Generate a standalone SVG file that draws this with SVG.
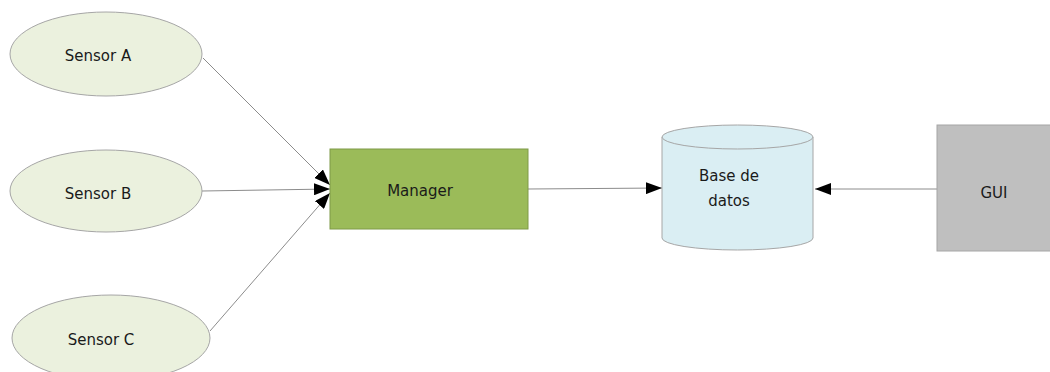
<svg xmlns="http://www.w3.org/2000/svg" width="1050" height="372" viewBox="0 0 1050 372">
  <style>
    .sensor { fill: #EBF1DE; stroke: #A6A6A6; stroke-width: 1; }
    .lbl { font-family: "DejaVu Sans", "Liberation Sans", sans-serif; font-size: 15px; fill: #1a1a1a; text-anchor: middle; }
    .conn { stroke: #8c8c8c; stroke-width: 1; fill: none; marker-end: url(#arrow); }
  </style>
  <defs>
    <marker id="arrow" viewBox="0 0 16 12" refX="16" refY="6" markerWidth="16" markerHeight="12" markerUnits="userSpaceOnUse" orient="auto">
      <path d="M0,0 L16,6 L0,12 z" fill="#000"/>
    </marker>
  </defs>
  <rect width="1050" height="372" fill="#fff"/>

  <g id="connectors">
    <line class="conn" x1="203" y1="58" x2="330" y2="185"/>
    <line class="conn" x1="202" y1="191" x2="330" y2="189"/>
    <line class="conn" x1="210" y1="331" x2="330" y2="193"/>
    <line class="conn" x1="528" y1="189" x2="662" y2="188"/>
    <line class="conn" x1="937" y1="189" x2="815" y2="189"/>
  </g>

  <g id="sensorA">
    <ellipse class="sensor" cx="106" cy="54" rx="96" ry="42"/>
    <text class="lbl" x="98" y="61">Sensor A</text>
  </g>
  <g id="sensorB">
    <ellipse class="sensor" cx="106" cy="191" rx="96" ry="41"/>
    <text class="lbl" x="98" y="199">Sensor B</text>
  </g>
  <g id="sensorC">
    <ellipse class="sensor" cx="111" cy="338" rx="99" ry="43"/>
    <text class="lbl" x="101" y="345">Sensor C</text>
  </g>

  <g id="manager">
    <rect x="330" y="149" width="198" height="80" fill="#9BBB59" stroke="#7F9A48" stroke-width="1"/>
    <text class="lbl" x="420" y="196">Manager</text>
  </g>

  <g id="database">
    <path d="M662,137 L662,238 A75.5,12 0 0 0 813,238 L813,137" fill="#DAEEF3" stroke="#A6A6A6" stroke-width="1"/>
    <ellipse cx="737.5" cy="137" rx="75.5" ry="12" fill="#DAEEF3" stroke="#A6A6A6" stroke-width="1"/>
    <text class="lbl" x="729" y="181">Base de</text>
    <text class="lbl" x="729" y="206">datos</text>
  </g>

  <g id="gui">
    <rect x="937" y="125" width="120" height="126" fill="#BFBFBF" stroke="#A6A6A6" stroke-width="1"/>
    <text class="lbl" x="994" y="198">GUI</text>
  </g>
</svg>
